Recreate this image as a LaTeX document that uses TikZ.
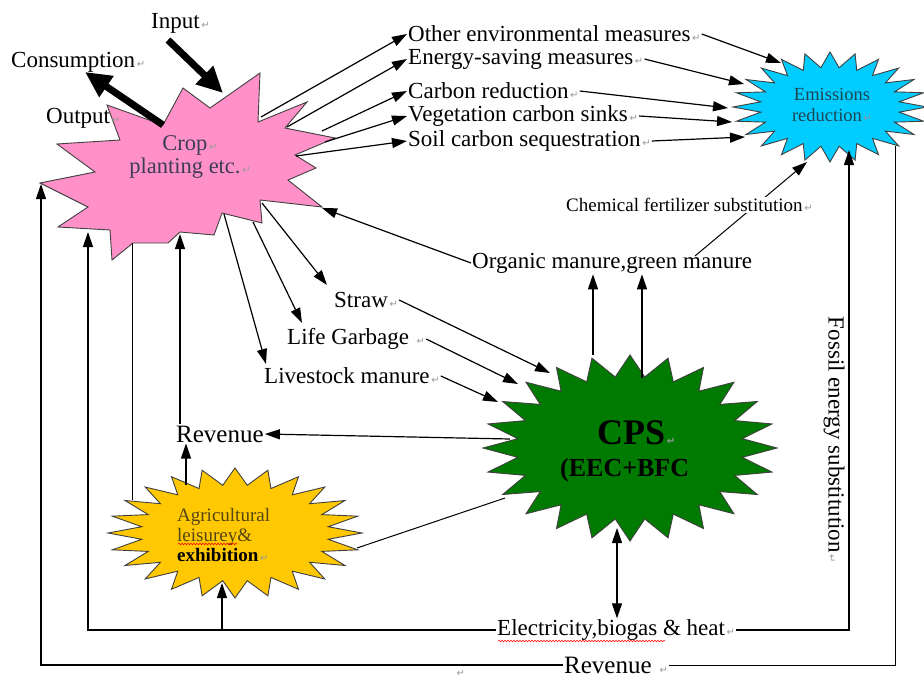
\documentclass[tikz,border=0pt]{standalone}
\usepackage{fontspec}
\setmainfont{Liberation Serif}
\newfontfamily\dejavu{DejaVu Sans}
\usetikzlibrary{arrows.meta,decorations.pathmorphing}
\definecolor{pinkc}{RGB}{255,145,200}
\definecolor{cyanc}{RGB}{0,204,255}
\definecolor{greenc}{RGB}{0,122,0}
\definecolor{yellowc}{RGB}{255,200,0}
\definecolor{croptext}{RGB}{60,60,85}
\definecolor{emtext}{RGB}{30,70,85}
\definecolor{agtext}{RGB}{85,70,20}
\newcommand\rmk{{\dejavu\fontsize{10}{10}\selectfont\color{black!40}\,↵}}
\newcommand\burststar[6]{%
  \draw[burst,fill=#6] plot[samples at={0,...,47}, variable=\t]
  ({#1+#3*(1-(1-#5)*mod(\t,2))*cos(\t*7.5)},{#2+#4*(1-(1-#5)*mod(\t,2))*sin(\t*7.5)}) -- cycle;}
\begin{document}
\begin{tikzpicture}[x=1pt,y=-1pt,
  lbl/.style={inner sep=1pt, font=\fontsize{23}{25}\selectfont},
  lblw/.style={lbl, anchor=west},
  conn/.style={line width=1.2pt, -{Triangle[length=15pt,width=10pt]}},
  conn2/.style={line width=1.2pt, {Triangle[length=15pt,width=10pt]}-{Triangle[length=15pt,width=10pt]}},
  plain/.style={line width=1pt},
  fat/.style={line width=7pt, -{Triangle[length=26pt,width=24pt]}},
  burst/.style={draw=black!75, line width=0.9pt, line join=miter},
  wavy/.style={red, line width=0.5pt, decorate, decoration={snake, amplitude=0.8pt, segment length=3pt}}
]
\useasboundingbox (0,0) rectangle (924,677);
\fill[white] (0,0) rectangle (924,677);

% ---- stars ----
\draw[burst, fill=pinkc] (260,73) -- (258,122) -- (307,102) -- (285,128) -- (335,138) -- (295,155)
  -- (316,168) -- (288,180) -- (322,207) -- (260,200) -- (262,223) -- (222,213) -- (214,235)
  -- (180,232) -- (168,243) -- (133,243) -- (112,260) -- (110,230) -- (58,227) -- (88,207)
  -- (40,183) -- (95,172) -- (57,144) -- (120,140) -- (107,105) -- (163,125) -- (183,88)
  -- (210,108) -- cycle;
\burststar{830}{107}{97}{55}{0.72}{cyanc}
\burststar{630}{448}{147}{93}{0.77}{greenc}
\burststar{235}{533}{127}{65}{0.74}{yellowc}

% ---- star texts ----
\node[lbl, align=center, text=croptext, font=\fontsize{22.5}{23}\selectfont] (crop) at (190,157) {Crop\rmk\\planting etc.\rmk};
\node[lbl, align=center, text=emtext, font=\fontsize{18.5}{21}\selectfont] (em) at (832,105) {Emissions\\reduction\rmk};
\node[lblw, font=\fontsize{36}{38}\selectfont\bfseries] (cpsA) at (596,433) {CPS\rmk};
\node[lblw, font=\fontsize{26}{28}\selectfont\bfseries] (cpsB) at (559,470) {(EEC+BFC};
\node[lblw, align=left, text=agtext, font=\fontsize{19}{20}\selectfont] (agri) at (176,535) {Agricultural\\leisurey\&\\{\color{black}\bfseries exhibition}\rmk};

% ---- labels ----
\node[lblw] (input) at (150,23) {Input\rmk};
\node[lblw] (cons) at (10,62) {Consumption\rmk};
\node[lblw] (outp) at (45,118) {Output\rmk};
\node[lblw] (oth) at (407,34) {Other environmental measures\rmk};
\node[lblw] (ene) at (407,59) {Energy-saving measures\rmk};
\node[lblw] (car) at (407,91) {Carbon reduction\rmk};
\node[lblw] (veg) at (407,116) {Vegetation carbon sinks\rmk};
\node[lblw] (soil) at (407,141) {Soil carbon sequestration\rmk};
\node[lblw] (org) at (471,263) {Organic manure,green manure};
\node[lblw] (straw) at (333,300) {Straw\rmk};
\node[lblw] (life) at (286,339) {Life Garbage \rmk};
\node[lblw] (live) at (263,376) {Livestock manure\rmk};
\node[lblw, font=\fontsize{25}{26}\selectfont] (rev1) at (175,434) {Revenue};
\node[lblw] (elec) at (496,630) {Electricity,biogas \& heat\rmk};
\node[lblw, font=\fontsize{25}{26}\selectfont] (rev2) at (563,665) {Revenue \rmk};
\node[lbl, rotate=-90] (fossil) at (834,440) {Fossil energy substitution\rmk};
\node[inner sep=0pt] (lone) at (460,673) {\rmk};

% ---- coordinates on the stars ----
\coordinate (pIn) at (223,93);
\coordinate (inS) at (168,40);
\coordinate (pOut) at (163,125);
\coordinate (cT) at (85,72);
\coordinate (p1) at (261,117);
\coordinate (p2) at (287,127);
\coordinate (p3) at (322,131);
\coordinate (p4) at (325,142);
\coordinate (p5) at (296,156);
\coordinate (e1) at (781,63);
\coordinate (e2) at (744,84);
\coordinate (e3) at (728,108);
\coordinate (e4) at (732,122);
\coordinate (e5) at (745,137);
\coordinate (pS) at (262,203);
\coordinate (pL) at (253,222);
\coordinate (pV) at (224,214);
\coordinate (tS) at (327,285);
\coordinate (tL) at (302,323);
\coordinate (tV) at (266,364);
\coordinate (cS) at (550,373);
\coordinate (cG) at (518,384);
\coordinate (cV) at (498,402);
\coordinate (pE) at (322,208);
\coordinate (cU1) at (593,355);
\coordinate (cU2) at (642,378);
\coordinate (oT) at (695,256);
\coordinate (eC) at (807,162);
\coordinate (pA) at (41,184);
\coordinate (pB) at (88,232);
\coordinate (pC) at (180,234);
\coordinate (pD) at (132,243);
\coordinate (aL) at (132,500);
\coordinate (aT) at (186,485);
\coordinate (aB) at (222,583);
\coordinate (aR) at (357,548);
\coordinate (cA) at (505,498);
\coordinate (cL) at (510,439);
\coordinate (cB) at (617,528);
\coordinate (eB) at (849,150);
\coordinate (eR) at (895,146);

% ---- thick arrows ----
\draw[fat] (inS) -- (pIn);
\draw[fat] (pOut) -- (cT);

% ---- crop to measures ----
\draw[conn] (p1) -- (oth.west);
\draw[conn] (p2) -- (ene.west);
\draw[conn] (p3) -- (car.west);
\draw[conn] (p4) -- (veg.west);
\draw[conn] (p5) -- (soil.west);
% ---- measures to emissions ----
\draw[conn] (oth.east) -- (e1);
\draw[conn] (ene.east) -- (e2);
\draw[conn] (car.east) -- (e3);
\draw[conn] (veg.east) -- (e4);
\draw[conn] (soil.east) -- (e5);

% ---- crop to residues ----
\draw[conn] (pS) -- (tS);
\draw[conn] (pL) -- (tL);
\draw[conn] (pV) -- (tV);
\draw[conn] (straw.east) -- (cS);
\draw[conn] (life.east) -- (cG);
\draw[conn] (live.east) -- (cV);

% ---- manure ----
\draw[conn] (org.west) -- (pE);
\draw[conn] (cU1) -- (org.south -| cU1);
\draw[conn] (cU2) -- (org.south -| cU2);
\draw[conn, line width=1pt] (oT) -- (eC);
\node[lblw, fill=white, inner sep=1pt, font=\fontsize{19}{21}\selectfont] (chem) at (565,205) {Chemical fertilizer substitution\rmk};

% ---- revenue / leisure ----
\draw[conn] (cL) -- (rev1.east);
\draw[conn] (rev1.north -| pC) -- (pC);
\draw[conn] (aT) -- (rev1.south -| aT);
\draw[plain] (aL) -- (pD);
\draw[plain] (cA) -- (aR);

% ---- energy ----
\draw[conn2] (cB) -- (elec.north -| cB);
\draw[conn] (elec.west) -| (pB);
\draw[conn] (elec.west -| aB) -- (aB);
\draw[conn] (elec.east) -| (eB);

% ---- outer revenue loop ----
\draw[conn] (rev2.west) -| (pA);
\draw[plain] (rev2.east) -| (eR);

% ---- spelling marks ----
\draw[wavy] (498,641) -- (665,641);
\draw[wavy] (178,544) -- (237,544);
\end{tikzpicture}
\end{document}
